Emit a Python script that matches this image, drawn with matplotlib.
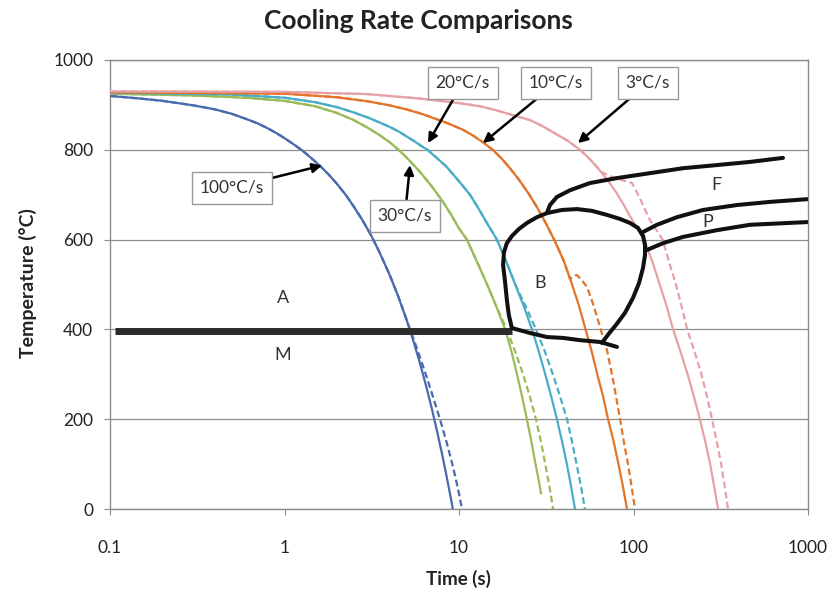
import matplotlib.pyplot as plt
from matplotlib.ticker import FixedLocator, FixedFormatter, NullLocator

plt.rcParams['font.family'] = ['Lato', 'DejaVu Sans']

# cooling curves: time (s) and temperature (C)
blue_t = [0.1, 0.15, 0.2, 0.3, 0.4, 0.5, 0.6, 0.7, 0.8, 0.9, 1.0, 1.13, 1.26, 1.42, 1.6, 1.8, 2.0,
          2.25, 2.5, 2.8, 3.15, 3.5, 4.0, 4.5, 5.0, 5.5, 6.0, 6.5, 7.0, 7.5, 8.0, 8.5, 9.0, 9.22]
blue_T = [920, 914, 909, 899, 890, 880, 869, 859, 848, 837, 826, 812, 799, 782, 764, 744, 724,
          699, 673, 643, 608, 572, 522, 472, 422, 372, 322, 272, 222, 172, 122, 72, 22, 0]
blue_dash_t = [0.1, 0.15, 0.2, 0.3, 0.4, 0.5, 0.6, 0.7, 0.8, 0.9, 1.0, 1.13, 1.26, 1.42, 1.6, 1.8, 2.0,
               2.25, 2.5, 2.8, 3.15, 3.5, 4.0, 4.5, 5.0, 5.5, 6.0, 6.5, 7.0, 7.5, 8.0, 8.5, 9.0,
               9.5, 10.0, 10.4]
blue_dash_T = [920, 914, 909, 899, 890, 880, 869, 859, 848, 837, 826, 812, 799, 782, 764, 744, 724,
               699, 673, 643, 608, 572, 522, 472, 422, 378, 336, 296, 257, 220, 184, 148, 111,
               74, 34, 0]

green_t = [0.1, 0.3, 0.6, 1.0, 1.5, 2.0, 2.5, 3.0, 3.5, 4.0, 4.5, 5.0, 5.5, 6.0, 7.0, 8.0, 9.0, 10.0,
           11.1, 12.7, 14.5, 16.4, 18.4, 20.0, 21.5, 23.0, 24.5, 26.0, 27.3, 28.5, 29.5]
green_T = [925, 921, 916, 909, 897, 882, 866, 849, 833, 817, 800, 783, 766, 750, 718, 687, 656, 625,
           600, 550, 500, 450, 400, 350, 300, 250, 200, 150, 105, 68, 35]
green_dash_t = [0.1, 0.3, 0.6, 1.0, 1.5, 2.0, 2.5, 3.0, 3.5, 4.0, 4.5, 5.0, 5.5, 6.0, 7.0, 8.0, 9.0,
                10.0, 11.1, 12.7, 14.5, 16.4, 18.8, 21.0, 23.3, 25.5, 27.6, 29.5, 31.2, 33.0, 34.6]
green_dash_T = [925, 921, 916, 909, 897, 882, 866, 849, 833, 817, 800, 783, 766, 750, 718, 687, 656,
                625, 600, 550, 500, 450, 400, 350, 300, 250, 200, 150, 100, 50, 0]

cyan_t = [0.1, 0.5, 1.0, 1.5, 2.0, 2.5, 3.0, 3.5, 4.0, 4.5, 5.0, 5.5, 6.0, 6.6, 7.5, 8.5, 9.5, 10.5,
          11.6, 13.0, 14.5, 16.5, 18.7, 21.0, 23.6, 26.2, 28.7, 31.2, 33.8, 36.4, 39.0, 41.5, 43.9, 46.2]
cyan_T = [927, 923, 916, 906, 895, 883, 872, 861, 851, 841, 830, 820, 810, 800, 781, 762, 740, 720,
          699, 668, 636, 600, 550, 500, 450, 400, 350, 300, 250, 200, 150, 100, 50, 0]
cyan_dash_t = [0.1, 0.5, 1.0, 1.5, 2.0, 2.5, 3.0, 3.5, 4.0, 4.5, 5.0, 5.5, 6.0, 6.6, 7.5, 8.5, 9.5,
               10.5, 11.6, 13.0, 14.5, 16.5, 18.7, 21.0, 24.2, 27.6, 31.1, 34.5, 38.0, 41.6, 44.4,
               47.2, 50.0, 52.7]
cyan_dash_T = [927, 923, 916, 906, 895, 883, 872, 861, 851, 841, 830, 820, 810, 800, 781, 762, 740,
               720, 699, 668, 636, 600, 550, 500, 450, 400, 350, 300, 250, 200, 150, 100, 50, 0]

orange_t = [0.1, 1.0, 2.0, 3.0, 4.0, 5.0, 6.0, 7.0, 8.5, 10.5, 12.0, 13.7, 15.7, 17.5, 19.5, 22.0,
            25.0, 28.0, 31.5, 35.5, 40.0, 44.0, 48.5, 52.7, 57.5, 62.0, 67.0, 71.5, 77.0, 82.0,
            87.0, 91.8]
orange_T = [928, 925, 917, 908, 899, 890, 881, 872, 860, 845, 832, 817, 799, 781, 760, 734, 703,
            672, 636, 596, 551, 505, 455, 405, 352, 300, 250, 200, 150, 100, 50, 0]
orange_dash_t = [0.1, 1.0, 2.0, 3.0, 4.0, 5.0, 6.0, 7.0, 8.5, 10.5, 12.0, 13.7, 15.7, 17.5, 19.5,
                 22.0, 25.0, 28.0, 31.5, 35.5, 40.0, 43.3, 45.5, 47.4, 50.5, 54.2, 58.0, 61.8, 66.0,
                 70.5, 77.0, 83.5, 88.0, 93.0, 97.5, 102.0]
orange_dash_T = [928, 925, 917, 908, 899, 890, 881, 872, 860, 845, 832, 817, 799, 781, 760, 734,
                 703, 672, 636, 596, 551, 512, 520, 521, 510, 494, 462, 428, 390, 354, 280, 203,
                 150, 100, 50, 0]

pink_t = [0.1, 1.0, 3.0, 6.0, 10.0, 13.2, 16.0, 20.0, 25.6, 30.0, 35.0, 42.0, 49.3, 55.0, 60.0,
          66.0, 73.0, 80.0, 88.0, 95.5, 105.0, 115.0, 128.0, 140.0, 154.0, 168.0, 186.0, 205.0,
          222.0, 240.0, 258.0, 275.0, 290.0, 305.0]
pink_T = [930, 929, 924, 914, 904, 897, 889, 878, 866, 853, 838, 820, 800, 783, 767, 748, 726,
          704, 677, 652, 626, 600, 552, 505, 455, 402, 350, 298, 250, 200, 150, 100, 50, 0]
pink_dash_t = [0.1, 1.0, 3.0, 6.0, 10.0, 13.2, 16.0, 20.0, 25.6, 30.0, 35.0, 42.0, 49.3, 55.0,
               60.0, 66.0, 75.0, 85.0, 98.0, 104.0, 110.0, 117.0, 124.0, 135.0, 147.0, 160.0, 175.0,
               189.0, 203.0, 224.0, 245.0, 264.0, 282.0, 300.0, 318.0, 333.0, 348.0]
pink_dash_T = [930, 929, 924, 914, 904, 897, 889, 878, 866, 853, 838, 820, 800, 783, 767, 750,
               740, 733, 726, 707, 688, 665, 644, 622, 600, 550, 500, 450, 400, 350, 300, 250,
               200, 150, 100, 50, 0]

# transformation boundaries (hand drawn on the original)
ms_t = [0.107, 20.1]
ms_T = [396, 396]
bain_low_t = [20.1, 25.5, 31.9, 39.5, 49.4, 64.3, 80.4]
bain_low_T = [403, 392, 383, 381, 376, 372, 361]
bain_t = [20.1, 19.3, 18.8, 18.4, 17.9, 18.1, 18.8, 20.1, 22.1, 24.5, 28.0, 31.9, 38.9, 47.5,
          57.8, 70.5, 83.7, 95.5, 106.1, 113.4, 116.4, 116.4, 113.4, 107.5, 99.3, 89.4, 79.4,
          71.4, 66.0]
bain_T = [403, 432, 466, 503, 543, 572, 592, 608, 624, 637, 650, 659, 666, 668, 664, 655, 646,
          637, 626, 608, 588, 566, 537, 503, 470, 437, 410, 388, 370]
ferrite_t = [31.9, 33.2, 36.4, 43.3, 56.3, 80.4, 124.3, 192.2, 300.9, 465.2, 719.1]
ferrite_T = [659, 677, 695, 710, 726, 737, 748, 759, 766, 773, 782]
pearl_top_t = [113.4, 136.3, 177.6, 250.2, 391.8, 605.6, 987.0]
pearl_top_T = [617, 633, 650, 666, 677, 684, 690]
pearl_bot_t = [119.5, 147.6, 192.2, 300.9, 465.2, 987.0]
pearl_bot_T = [577, 592, 606, 621, 633, 639]

rate_labels = ['100°C/s', '30°C/s', '20°C/s', '10°C/s', '3°C/s']
rate_tips = [(1.64, 765), (5.24, 766), (6.64, 815), (13.7, 815), (48.0, 815)]
rate_boxes = [(0.5, 715), (4.9, 653), (10.5, 949), (36.0, 949), (121.0, 949)]

phase_labels = ['A', 'M', 'B', 'F', 'P']
phase_pos = [(0.98, 470), (0.98, 343), (29.1, 503), (297.0, 721), (267.0, 639)]

blue = '#4a6aae'
green = '#9bbb59'
cyan = '#4bacc6'
orange = '#e2752a'
pink = '#e6a1a6'

fig = plt.figure(figsize=(8.35, 5.97), dpi=100)
ax = fig.add_axes([110 / 835, 1 - 509 / 597, 698 / 835, 449 / 597])

for t, T, t2, T2, c in [(blue_t, blue_T, blue_dash_t, blue_dash_T, blue),
                        (green_t, green_T, green_dash_t, green_dash_T, green),
                        (cyan_t, cyan_T, cyan_dash_t, cyan_dash_T, cyan),
                        (orange_t, orange_T, orange_dash_t, orange_dash_T, orange),
                        (pink_t, pink_T, pink_dash_t, pink_dash_T, pink)]:
    ax.plot(t2, T2, color=c, lw=1.6, ls=(0, (3, 1.6)), zorder=3)
    ax.plot(t, T, color=c, lw=1.6, zorder=4)

ax.plot(ms_t, ms_T, color='#2b2b2b', lw=5, solid_capstyle='butt', zorder=5)
for t, T in [(bain_low_t, bain_low_T), (bain_t, bain_T), (ferrite_t, ferrite_T),
             (pearl_top_t, pearl_top_T), (pearl_bot_t, pearl_bot_T)]:
    ax.plot(t, T, color='#111111', lw=2.9, solid_joinstyle='round', solid_capstyle='round', zorder=6)

for lab, (x, y) in zip(phase_labels, phase_pos):
    ax.text(x, y, lab, ha='center', va='center', fontsize=13, color='#333333', zorder=7)

for lab, tip, box in zip(rate_labels, rate_tips, rate_boxes):
    ax.annotate(lab, xy=tip, xytext=box, ha='center', va='center', fontsize=12.5, color='#333333',
                bbox=dict(boxstyle='square,pad=0.45', fc='white', ec='#9a9a9a', lw=1),
                arrowprops=dict(arrowstyle='-|>', color='black', lw=1.8, mutation_scale=14,
                                shrinkA=0, shrinkB=0),
                zorder=8)

ax.set_xscale('log')
ax.set_xlim(0.1, 1000)
ax.set_ylim(0, 1000)
ax.xaxis.set_major_locator(FixedLocator([0.1, 1, 10, 100, 1000]))
ax.xaxis.set_major_formatter(FixedFormatter(['0.1', '1', '10', '100', '1000']))
ax.xaxis.set_minor_locator(NullLocator())
ax.set_yticks([0, 200, 400, 600, 800, 1000])
ax.yaxis.grid(True, color='#8c8c8c', lw=0.9)
ax.set_axisbelow(True)
for s in ax.spines.values():
    s.set_color('#8c8c8c')
    s.set_linewidth(1)
ax.tick_params(axis='x', length=4, color='#8c8c8c', labelsize=12.5, pad=18, labelcolor='#222222')
ax.tick_params(axis='y', length=4, color='#8c8c8c', labelsize=12.5, pad=8, labelcolor='#222222')

fig.text(418 / 835, 1 - 21 / 597, 'Cooling Rate Comparisons', ha='center', va='center',
         fontsize=19, fontweight='bold', color='#222222')
fig.text(28 / 835, 1 - 283 / 597, 'Temperature (°C)', ha='center', va='center', rotation=90,
         fontsize=14, fontweight='bold', color='#222222')
fig.text(458 / 835, 1 - 579 / 597, 'Time (s)', ha='center', va='center',
         fontsize=13.5, fontweight='bold', color='#222222')

fig.savefig('out.png', dpi=100)
